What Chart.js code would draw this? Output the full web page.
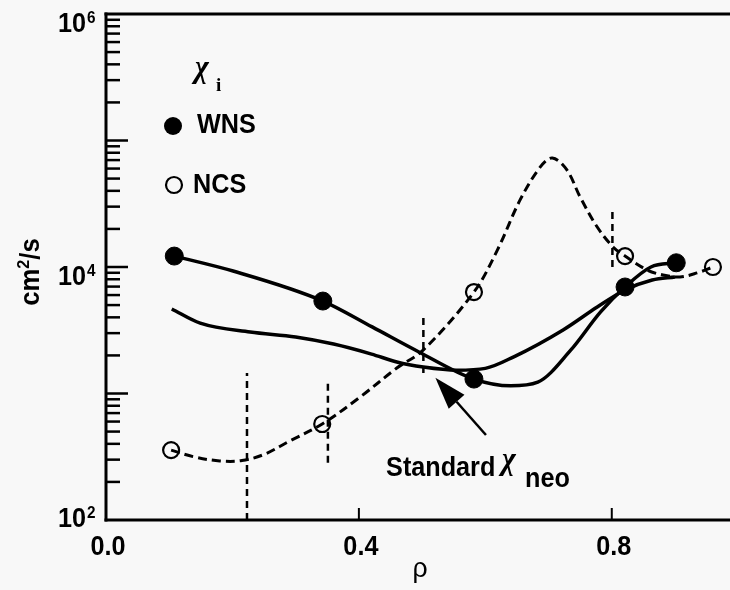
<!DOCTYPE html>
<html><head><meta charset="utf-8">
<script src="https://cdn.jsdelivr.net/npm/chart.js@4/dist/chart.umd.min.js"></script>
<style>html,body{margin:0;padding:0;background:#f8f8f8}canvas{display:block}</style>
</head><body>
<canvas id="c" width="730" height="590"></canvas>
<script>
// ---- measured data points ----
const wnsRho = [0.108, 0.343, 0.582, 0.821, 0.902];
const wnsChi = [12200, 5380, 1300, 6950, 10800];
const ncsRho = [0.103, 0.342, 0.582, 0.821, 0.960];
const ncsChi = [357, 574, 6340, 12200, 10000];

// ---- fitted curves ----
const wnsCurveRho = [0.108, 0.201, 0.343, 0.421, 0.495, 0.582, 0.640, 0.683, 0.735, 0.782, 0.821, 0.862, 0.902];
const wnsCurveChi = [12200, 9290, 5380, 3360, 2130, 1300, 1150, 1230, 2200, 4400, 6950, 10000, 10800];
const neoCurveRho = [0.104, 0.149, 0.228, 0.300, 0.360, 0.420, 0.460, 0.502, 0.555, 0.600, 0.645, 0.723, 0.777, 0.821, 0.864, 0.900];
const neoCurveChi = [4660, 3600, 3060, 2800, 2460, 2050, 1775, 1620, 1530, 1580, 1950, 3180, 4830, 6580, 7890, 8340];
const ncsCurveRho = [0.103, 0.140, 0.180, 0.215, 0.250, 0.290, 0.342, 0.402, 0.460, 0.502, 0.582, 0.619, 0.655, 0.687, 0.706, 0.729, 0.750, 0.777, 0.802, 0.821, 0.856, 0.881, 0.908, 0.935, 0.960];
const ncsCurveChi = [357, 315, 293, 295, 330, 420, 574, 938, 1590, 2210, 6340, 13600, 33900, 61800, 72800, 58500, 35700, 20700, 14400, 12200, 9460, 8650, 8340, 8980, 10000];

// ---- vertical dashed uncertainty markers ----
const barRho = [0.223, 0.351, 0.502, 0.801];
const barLow = [100, 283, 1450, 10000];
const barHigh = [1450, 1210, 3950, 27200];

// ---- ticks ----
const xTickValues = [0.0, 0.4, 0.8];
const xTickLabels = ['0.0', '0.4', '0.8'];
const yLabelExps = [2, 4, 6];
const yMajorTicks = [1e3, 1e4, 1e5];
const yMinorMantissas = [2, 3, 4, 5, 6, 7, 8, 9];
const yDecades = [1e2, 1e3, 1e4, 1e5];

const pts = (xs, ys) => xs.map((v, i) => ({x: v, y: ys[i]}));

const datasets = [
  {data: pts(wnsCurveRho, wnsCurveChi), borderColor: '#000', borderWidth: 3.5, pointRadius: 0, cubicInterpolationMode: 'monotone'},
  {data: pts(neoCurveRho, neoCurveChi), borderColor: '#000', borderWidth: 3.5, pointRadius: 0, cubicInterpolationMode: 'monotone'},
  {data: pts(ncsCurveRho, ncsCurveChi), borderColor: '#000', borderWidth: 3, borderDash: [9, 5], pointRadius: 0, tension: 0.35},
];
barRho.forEach((r, i) => datasets.push({
  data: [{x: r, y: barLow[i]}, {x: r, y: barHigh[i]}],
  borderColor: '#000', borderWidth: 2.5, borderDash: [7, 5], pointRadius: 0
}));
datasets.push({data: pts(wnsRho, wnsChi), showLine: false, pointRadius: 9, pointBackgroundColor: '#000', pointBorderColor: '#000', pointBorderWidth: 1});
datasets.push({data: pts(ncsRho, ncsChi), showLine: false, pointRadius: 8, pointBackgroundColor: '#f8f8f8', pointBorderColor: '#000', pointBorderWidth: 2.2});

const SANS = '"Liberation Sans", Arial, sans-serif';
const SERIF = '"Liberation Serif", "Times New Roman", serif';
function txt(ctx, s, x, y, font, align, sx) {
  ctx.save();
  ctx.font = font; ctx.textAlign = align || 'left'; ctx.textBaseline = 'alphabetic';
  ctx.translate(x, y); ctx.scale(sx == null ? 0.9 : sx, 1);
  ctx.fillText(s, 0, 0);
  ctx.restore();
}
function w(ctx, s, font, sx) { ctx.save(); ctx.font = font; const m = ctx.measureText(s).width; ctx.restore(); return m * (sx == null ? 0.9 : sx); }
function seg(ctx, x1, y1, x2, y2) { ctx.beginPath(); ctx.moveTo(x1, y1); ctx.lineTo(x2, y2); ctx.stroke(); }

const decor = {
  id: 'decor',
  afterDraw(chart) {
    const {ctx, chartArea: a, scales: {x, y}} = chart;
    ctx.save();
    ctx.strokeStyle = '#000'; ctx.fillStyle = '#000'; ctx.lineCap = 'butt';
    // axes frame
    ctx.lineWidth = 3;
    seg(ctx, a.left, a.top - 1.5, a.left, a.bottom + 1.5);
    seg(ctx, a.left - 1.5, a.bottom, a.right, a.bottom);
    seg(ctx, a.left - 1.5, a.top, a.right, a.top);
    // y ticks (inside)
    ctx.lineWidth = 2.5;
    yDecades.forEach(d => yMinorMantissas.forEach(m => {
      const py = y.getPixelForValue(d * m);
      seg(ctx, a.left, py, a.left + 14, py);
    }));
    yMajorTicks.forEach(v => {
      const py = y.getPixelForValue(v);
      seg(ctx, a.left, py, a.left + 22, py);
    });
    // x ticks (inside)
    ctx.lineWidth = 2;
    xTickValues.forEach(v => {
      const px = x.getPixelForValue(v);
      if (v > 0) seg(ctx, px, a.bottom, px, a.bottom - 12);
    });
    // y labels
    const big = 'bold 28px ' + SANS, sup = 'bold 17px ' + SANS;
    yLabelExps.forEach(e => {
      const py = y.getPixelForValue(Math.pow(10, e));
      const b = Math.min(py + 18, 527);
      txt(ctx, '10', a.left - 20, b, big, 'right');
      txt(ctx, String(e), a.left - 19, b - 9, sup, 'left');
    });
    // x labels
    xTickValues.forEach((v, i) => {
      txt(ctx, xTickLabels[i], x.getPixelForValue(v) + 2, 555, big, 'center');
    });
    // x title
    txt(ctx, 'ρ', (a.left + a.right) / 2 + 2, 577, '28px ' + SANS, 'center', 0.95);
    // y title rotated
    ctx.save();
    ctx.translate(39, (a.top + a.bottom) / 2 + 5);
    ctx.rotate(-Math.PI / 2);
    const ytf = 'bold 27px ' + SANS, yts = 'bold 17px ' + SANS;
    const w1 = w(ctx, 'cm', ytf, 0.95), w2 = w(ctx, '2', yts, 0.95), w3 = w(ctx, '/s', ytf, 0.95);
    let sx0 = -(w1 + w2 + w3) / 2;
    txt(ctx, 'cm', sx0, 0, ytf, 'left', 0.95);
    txt(ctx, '2', sx0 + w1, -10, yts, 'left', 0.95);
    txt(ctx, '/s', sx0 + w1 + w2, 0, ytf, 'left', 0.95);
    ctx.restore();
    // legend
    const lx = a.left + 67;
    const chi = 'bold italic 31px ' + SERIF;
    ctx.beginPath(); ctx.arc(lx, 126, 9, 0, Math.PI * 2); ctx.fill();
    ctx.lineWidth = 2.2;
    ctx.beginPath(); ctx.arc(lx + 1, 185, 8, 0, Math.PI * 2); ctx.stroke();
    txt(ctx, 'χ', lx + 22, 77, chi, 'left', 0.95);
    txt(ctx, 'i', lx + 43, 91, 'bold 19px ' + SERIF, 'left', 1);
    txt(ctx, 'WNS', lx + 24, 133, big, 'left');
    txt(ctx, 'NCS', lx + 20, 193, big, 'left');
    // annotation arrow (tip & tail in data units)
    const tx = x.getPixelForValue(0.521), ty = y.getPixelForValue(1330);
    const ex = x.getPixelForValue(0.601), ey = y.getPixelForValue(470);
    const ang = Math.atan2(ty - ey, tx - ex);
    const hl = 32, hw = 10.5;
    const bx = tx - hl * Math.cos(ang), by = ty - hl * Math.sin(ang);
    ctx.lineWidth = 2.5;
    seg(ctx, ex, ey, bx, by);
    ctx.beginPath();
    ctx.moveTo(tx, ty);
    ctx.lineTo(bx + hw * Math.sin(ang), by - hw * Math.cos(ang));
    ctx.lineTo(bx - hw * Math.sin(ang), by + hw * Math.cos(ang));
    ctx.closePath(); ctx.fill();
    // annotation text
    const ax = x.getPixelForValue(0.443);
    txt(ctx, 'Standard', ax, 476, big, 'left');
    txt(ctx, 'χ', ax + 116, 469, chi, 'left', 0.95);
    txt(ctx, 'neo', ax + 139, 487, 'bold 28px ' + SANS, 'left');
    ctx.restore();
  }
};

new Chart(document.getElementById('c'), {
  type: 'line',
  data: {datasets},
  options: {
    responsive: false, devicePixelRatio: 1, animation: false,
    layout: {autoPadding: false, padding: {top: 14, left: 0, right: 0, bottom: 0}},
    plugins: {legend: {display: false}, tooltip: {enabled: false}},
    scales: {
      x: {type: 'linear', min: 0, max: 0.987,
          grid: {display: false, drawTicks: false}, border: {display: false},
          ticks: {display: false},
          afterFit: s => { s.height = 70; }},
      y: {type: 'logarithmic', min: 100, max: 1e6,
          grid: {display: false, drawTicks: false}, border: {display: false},
          ticks: {display: false},
          afterFit: s => { s.width = 106; }}
    }
  },
  plugins: [decor]
});
</script>
</body></html>
